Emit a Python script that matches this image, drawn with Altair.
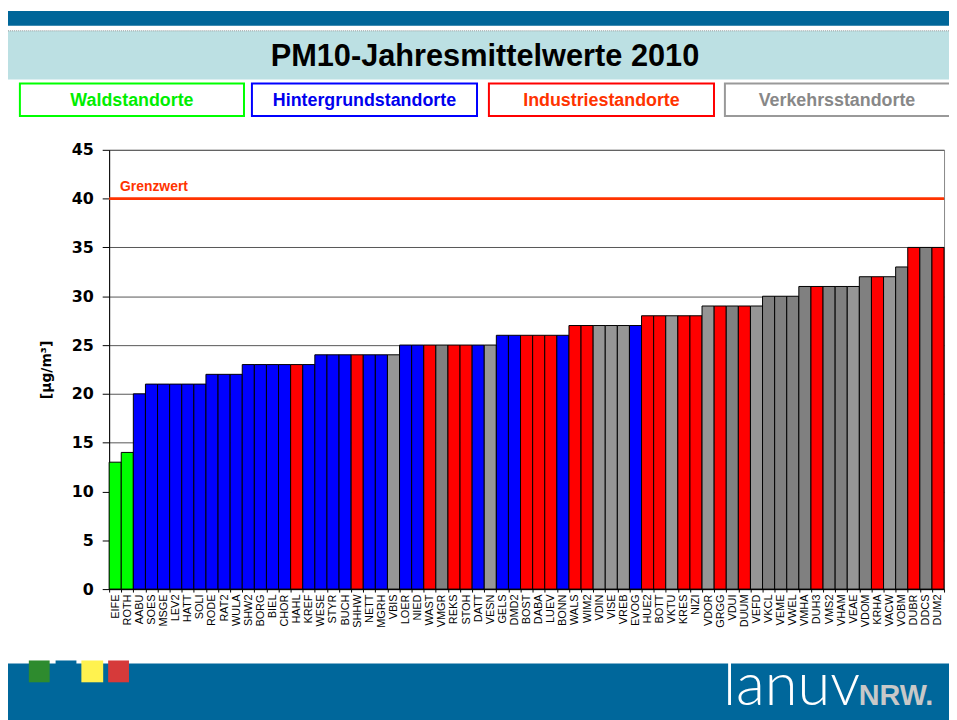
import altair as alt
import pandas as pd

# ---------------- data ----------------
stations = ["EIFE", "ROTH", "AABU", "SOES", "MSGE", "LEV2", "HATT", "SOLI", "RODE", "RAT2",
            "WULA", "SHW2", "BORG", "BIEL", "CHOR", "HAHL", "KREF", "WESE", "STYR", "BUCH",
            "SHHW", "NETT", "MGRH", "VBIS", "LOER", "NIED", "WAST", "VMGR", "REKS", "STOH",
            "DATT", "VESN", "GELS", "DMD2", "BOST", "DABA", "LUEV", "BONN", "WALS", "WIM2",
            "VDIN", "VISE", "VREB", "EVOG", "HUE2", "BOTT", "VKTU", "KRES", "NIZI", "VDOR",
            "GRGG", "VDUI", "DUUM", "VEFD", "VKCL", "VEME", "VWEL", "VMHA", "DUH3", "VMS2",
            "VHAM", "VEAE", "VDOM", "KRHA", "VACW", "VOBM", "DUBR", "DDCS", "DUM2"]
values = [13, 14, 20, 21, 21, 21, 21, 21, 22, 22,
          22, 23, 23, 23, 23, 23, 23, 24, 24, 24,
          24, 24, 24, 24, 25, 25, 25, 25, 25, 25,
          25, 25, 26, 26, 26, 26, 26, 26, 27, 27,
          27, 27, 27, 27, 28, 28, 28, 28, 28, 29,
          29, 29, 29, 29, 30, 30, 30, 31, 31, 31,
          31, 31, 32, 32, 32, 33, 35, 35, 35]
# W = Wald, H = Hintergrund, I = Industrie, V = Verkehr (hell), D = Verkehr (dunkel)
types = ["W", "W", "H", "H", "H", "H", "H", "H", "H", "H",
         "H", "H", "H", "H", "H", "I", "H", "H", "H", "H",
         "I", "H", "H", "V", "H", "H", "I", "D", "I", "I",
         "H", "V", "H", "H", "I", "I", "I", "H", "I", "I",
         "V", "V", "V", "H", "I", "I", "V", "I", "I", "V",
         "I", "D", "I", "V", "D", "D", "D", "D", "I", "D",
         "D", "V", "D", "I", "V", "D", "I", "D", "I"]
type_domain = ["W", "H", "I", "V", "D"]
type_colors = ["#00FF00", "#0000FF", "#FF0000", "#969696", "#808080"]

grenzwert = [40]
y_ticks = [0, 5, 10, 15, 20, 25, 30, 35, 40, 45]

legend_labels = ["Waldstandorte", "Hintergrundstandorte", "Industriestandorte", "Verkehrsstandorte"]
legend_text_colors = ["#00EE00", "#0000EE", "#FF3300", "#888888"]
legend_box_colors = ["#00FF00", "#0000FF", "#FF0000", "#999999"]
legend_x = [(20, 246), (254, 481), (493, 720), (731, 960)]

df = pd.DataFrame({"station": stations, "wert": values, "typ": types})

# ---------------- layout (page coordinates) ----------------
OX, OY = 110, 148          # plot origin on the page
W, H = 842, 443
PAD = {"left": OX - 8, "top": OY - 8, "right": 949 - (OX - 8) - W, "bottom": 712 - (OY - 8) - H}

one = pd.DataFrame({"k": [0]})


def rect(x1, y1, x2, y2, **kw):
    return alt.Chart(one).mark_rect(**kw).encode(
        x=alt.value(x1 - OX), x2=alt.value(x2 - OX),
        y=alt.value(y1 - OY), y2=alt.value(y2 - OY))


def text(t, x, y, **kw):
    return alt.Chart(one).mark_text(text=t, **kw).encode(
        x=alt.value(x - OX), y=alt.value(y - OY))


ytitle = "[µg/m³]"

bars = alt.Chart(df).mark_bar(stroke="#000000", strokeWidth=1, opacity=1).encode(
    x=alt.X("station:N", sort=None,
            scale=alt.Scale(paddingInner=0, paddingOuter=0),
            axis=alt.Axis(title=None, labelAngle=270, labelFontSize=11,
                          labelFont="Liberation Sans", labelColor="#000000",
                          tickBand="extent", tickSize=3, labelPadding=2,
                          domainColor="#000000", tickColor="#000000",
                          labelBaseline="middle", labelAlign="right")),
    y=alt.Y("wert:Q", title=ytitle,
            scale=alt.Scale(domain=[0, 45], nice=False),
            axis=alt.Axis(values=y_ticks, labelFont="DejaVu Sans", labelFontWeight="bold",
                          labelFontSize=16, labelColor="#000000", labelPadding=9,
                          tickSize=7, tickColor="#000000", domainColor="#000000",
                          gridColor="#555555", gridWidth=1,
                          titleFont="DejaVu Sans", titleFontSize=14, titleFontWeight="bold",
                          titleColor="#000000", titlePadding=18)),
    color=alt.Color("typ:N", scale=alt.Scale(domain=type_domain, range=type_colors), legend=None),
)

gdf = pd.DataFrame({"wert": grenzwert})
limit_rule = alt.Chart(gdf).mark_rule(color="#FF3300", strokeWidth=3).encode(
    y=alt.Y("wert:Q", title=ytitle))
limit_text = alt.Chart(gdf).mark_text(
    text="Grenzwert", color="#FF3300", font="Liberation Sans", fontWeight="bold",
    fontSize=14, align="left", baseline="bottom", dy=-5).encode(
    x=alt.value(121 - OX), y=alt.Y("wert:Q", title=ytitle))

layers = []
# header
layers.append(rect(0, 8, 960, 23, color="#006699"))
layers.append(rect(8, 28, 960, 77, color="#BCE0E3"))
layers.append(alt.Chart(one).mark_rule(color="#999999", strokeDash=[1, 1], strokeWidth=1).encode(
    x=alt.value(8 - OX), x2=alt.value(960 - OX), y=alt.value(28 - OY)))
layers.append(text("PM10-Jahresmittelwerte 2010", 489, 63, font="Liberation Sans",
                   fontWeight="bold", fontSize=31, color="#000000", align="center",
                   baseline="alphabetic"))
for lab, tc, bc, (xa, xb) in zip(legend_labels, legend_text_colors, legend_box_colors, legend_x):
    layers.append(rect(xa, 81, xb, 114, fill="#FFFFFF", stroke=bc, strokeWidth=2))
    layers.append(text(lab, (xa + min(xb, 957)) / 2, 104,
                       font="Liberation Sans", fontWeight="bold", fontSize=18, color=tc,
                       align="center", baseline="alphabetic"))

# footer
layers.append(rect(8, 666, 960, 730, color="#00679B"))
layers.append(rect(29, 663, 50, 685, color="#2E8B2E"))
layers.append(rect(56, 663, 77, 670, color="#00679B"))
layers.append(rect(82, 663, 104, 685, color="#FFF24F"))
layers.append(rect(109, 663, 130, 685, color="#D63A3A"))
layers.append(text("lanuv", 729, 708, font="Lato", fontWeight=300, fontSize=60,
                   color="#FFFFFF", align="left", baseline="alphabetic"))
layers.append(text("NRW.", 866, 708, font="Liberation Sans", fontWeight="bold",
                   fontSize=29, color="#C8C8C8", align="left", baseline="alphabetic"))

chart = alt.layer(bars, limit_rule, limit_text, *layers).properties(
    width=W, height=H,
    autosize=alt.AutoSizeParams(type="none"),
    padding=PAD,
).configure_view(stroke="#888888", strokeWidth=1).configure_axis(grid=True).configure_axisX(grid=False)

chart.save("out.html", embed_options={"renderer": "svg", "actions": False})
